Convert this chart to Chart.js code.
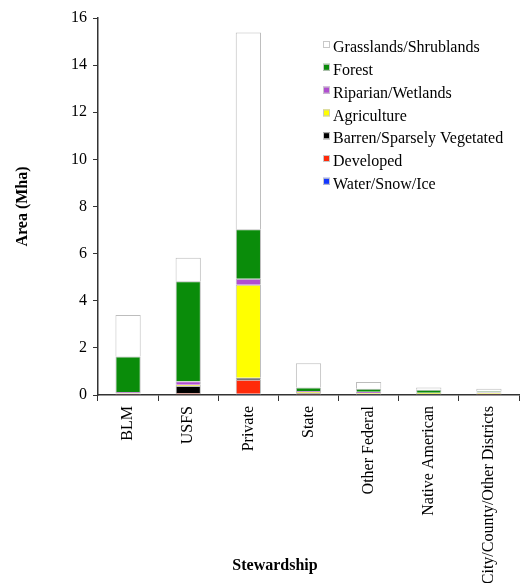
<!DOCTYPE html>
<html>
<head>
<meta charset="utf-8">
<script src="https://cdn.jsdelivr.net/npm/chart.js@4"></script>
<style>
  html, body { margin: 0; padding: 0; background: #fff; }
  #wrap { width: 521px; height: 583px; }
</style>
</head>
<body>
<div id="wrap"><canvas id="chart"></canvas></div>
<script>
// categories (stewardship)
const categories = ['BLM', 'USFS', 'Private', 'State', 'Other Federal', 'Native American', 'City/County/Other Districts'];

// area in Mha, stacked bottom to top
const water      = [0.01, 0.03, 0.05, 0.02, 0.01, 0.01, 0.01];
const developed  = [0.02, 0.05, 0.60, 0.03, 0.01, 0.01, 0.02];
const barren     = [0.03, 0.30, 0.08, 0.03, 0.03, 0.02, 0.02];
const agriculture = [0.03, 0.05, 3.95, 0.05, 0.04, 0.04, 0.05];
const riparian   = [0.04, 0.15, 0.25, 0.04, 0.05, 0.02, 0.02];
const forest     = [1.50, 4.25, 2.10, 0.15, 0.13, 0.12, 0.04];
const grassland  = [1.77, 1.00, 8.35, 1.03, 0.28, 0.10, 0.10];

const yTicks = [0, 2, 4, 6, 8, 10, 12, 14, 16];
const xTitle = 'Stewardship';

const serif = "'Liberation Serif', 'Times New Roman', serif";
const edge = '#bdbdbd';

function ds(label, data, color) {
    return {
        label: label,
        data: data,
        backgroundColor: color,
        borderColor: edge,
        borderWidth: 1,
        barPercentage: 0.42,
        categoryPercentage: 1
    };
}

// legend inside the plot (top right, reverse stack order) + x title
const extras = {
    id: 'extras',
    afterDraw(chart) {
        const ctx = chart.ctx;
        const area = chart.chartArea;
        const items = chart.data.datasets.slice().reverse();
        let x = area.left + 225;
        let y = area.top + 29;
        ctx.save();
        ctx.font = '16px ' + serif;
        ctx.textBaseline = 'middle';
        ctx.textAlign = 'left';
        items.forEach(function (d) {
            ctx.fillStyle = d.backgroundColor;
            ctx.fillRect(x, y - 6, 7, 7);
            ctx.strokeStyle = '#c8c8c8';
            ctx.lineWidth = 1;
            ctx.strokeRect(x + 0.5, y - 5.5, 6, 6);
            ctx.fillStyle = '#000';
            ctx.fillText(d.label, x + 10, y + 1);
            y += 22.8;
        });

        ctx.font = 'bold 16px ' + serif;
        ctx.textAlign = 'center';
        ctx.fillText(xTitle, area.left + 177, chart.height - 17);
        ctx.restore();
    }
};

new Chart(document.getElementById('chart'), {
    type: 'bar',
    data: {
        labels: categories,
        datasets: [
            ds('Water/Snow/Ice', water, '#1438ff'),
            ds('Developed', developed, '#ff2a0a'),
            ds('Barren/Sparsely Vegetated', barren, '#000000'),
            ds('Agriculture', agriculture, '#ffff00'),
            ds('Riparian/Wetlands', riparian, '#b04ed0'),
            ds('Forest', forest, '#0a8c0a'),
            ds('Grasslands/Shrublands', grassland, '#ffffff')
        ]
    },
    options: {
        responsive: true,
        maintainAspectRatio: false,
        animation: false,
        layout: { padding: { top: 18, right: 2, left: 0, bottom: 0 } },
        plugins: {
            legend: { display: false },
            tooltip: { enabled: false }
        },
        scales: {
            x: {
                stacked: true,
                afterFit: function (scale) { scale.height = 188; },
                grid: {
                    offset: true,
                    drawOnChartArea: false,
                    drawTicks: true,
                    tickLength: 6,
                    color: '#333'
                },
                border: { color: '#333', width: 1.5 },
                ticks: {
                    minRotation: 90,
                    maxRotation: 90,
                    padding: 5,
                    color: '#000',
                    font: { family: serif, size: 16 }
                },
                title: { display: false }
            },
            y: {
                stacked: true,
                min: 0,
                max: 16,
                afterFit: function (scale) { scale.width = 98; },
                afterBuildTicks: function (scale) {
                    scale.ticks = yTicks.map(function (v) { return { value: v }; });
                },
                grid: {
                    drawOnChartArea: false,
                    drawTicks: true,
                    tickLength: 5,
                    color: '#333'
                },
                border: { color: '#333', width: 1.5 },
                ticks: {
                    padding: 6,
                    color: '#000',
                    font: { family: serif, size: 16 }
                },
                title: {
                    display: true,
                    text: 'Area (Mha)',
                    color: '#000',
                    font: { family: serif, size: 16, weight: 'bold' },
                    padding: { top: 13, bottom: 13 }
                }
            }
        }
    },
    plugins: [extras]
});
</script>
</body>
</html>
